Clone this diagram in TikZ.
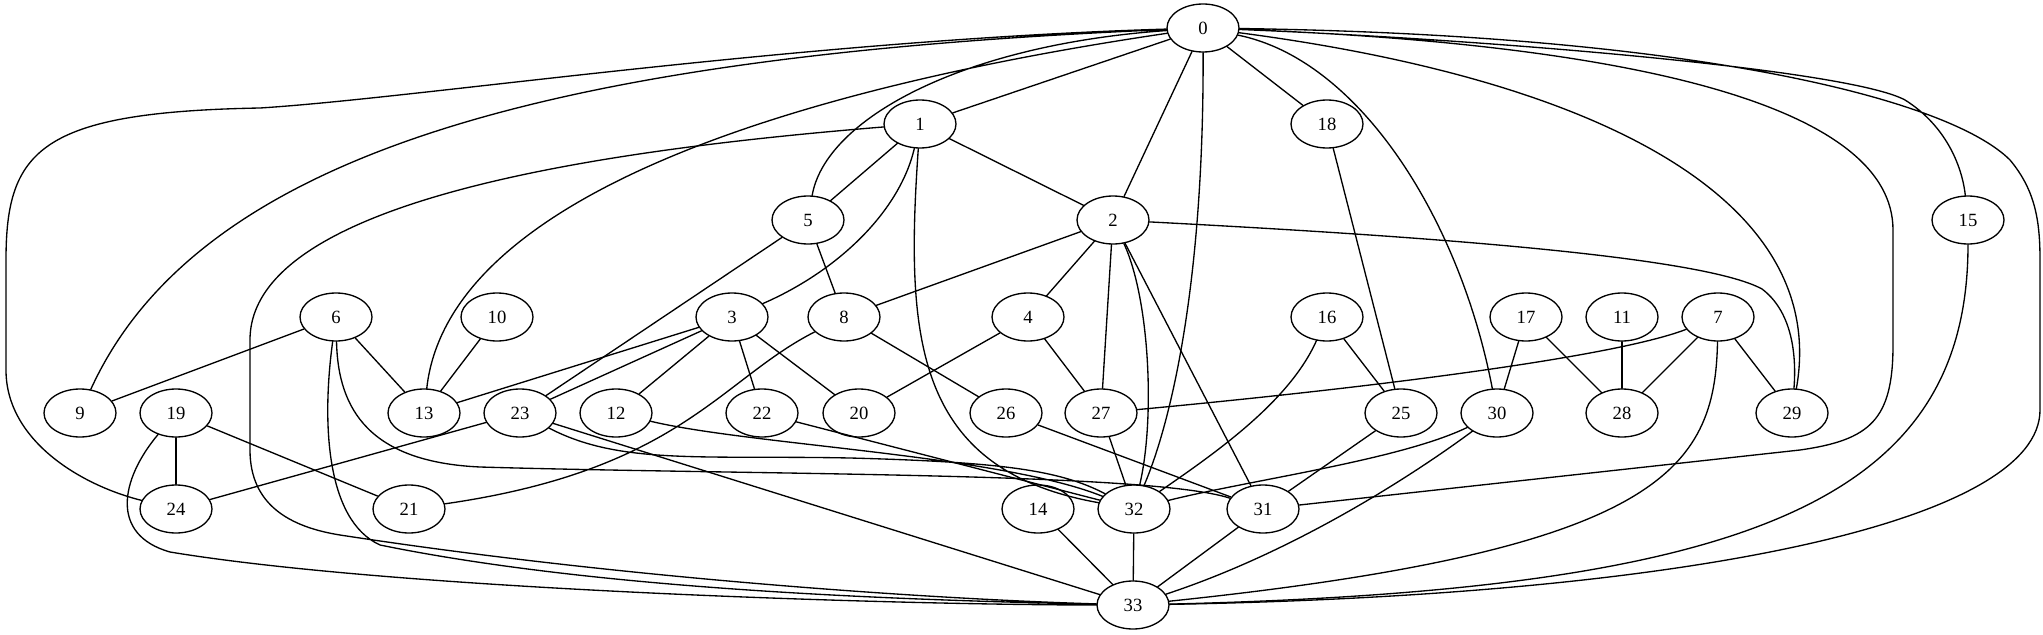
\documentclass[tikz,border=0pt]{standalone}
\usepackage{fontspec}
\setmainfont{Liberation Serif}
\usetikzlibrary{shapes.geometric}
\begin{document}
\begin{tikzpicture}[x=0.75pt, y=0.75pt, line width=1pt, line join=round, line cap=round,
	vtx/.style={draw, ellipse, minimum width=54pt, minimum height=36pt, inner sep=0pt, font=\fontsize{14}{16}\selectfont}]
	\useasboundingbox (0,0) rectangle (2043,-635);
	\foreach \n/\x/\y in {0/1203/28, 1/920/124, 18/1327/124, 5/808/220, 2/1113/220, 15/1968/220,
		6/336/317, 10/497/317, 3/732/317, 8/844/317, 4/1028/317, 16/1327/317, 17/1526/317, 11/1622/317, 7/1718/317,
		9/80/413, 19/176/413, 13/424/413, 23/520/413, 12/616/413, 22/762/413, 20/859/413, 26/1006/413,
		27/1101/413, 25/1401/413, 30/1497/413, 28/1622/413, 29/1792/413,
		24/176/509, 21/409/509, 14/1038/509, 32/1134/509, 31/1263/509, 33/1133/605}
		\node[vtx] (n\n) at (\x,-\y) {\n};
	\foreach \a/\b in {0/1, 0/2, 0/18, 1/5, 1/2, 2/8, 2/4, 2/27, 2/31, 5/8, 5/23, 18/25, 6/9, 6/13, 10/13,
		3/13, 3/23, 3/12, 3/22, 3/20, 8/26, 4/20, 4/27, 16/25, 17/30, 17/28, 11/28, 7/28, 7/29, 19/24,
		19/21, 23/24, 23/33, 22/32, 26/31, 27/32, 25/31, 31/33, 32/33, 14/33}
		\draw (n\a) -- (n\b);
	\draw (n0) .. controls (960,-45) and (825,-120) .. (n5)
	(n0) .. controls (850,-80) and (450,-180) .. (n13)
	(n0) .. controls (560,-55) and (200,-150) .. (n9)
	(n0) .. controls (800,-40) and (420,-98) .. (260,-108) .. controls (40,-112) and (6,-150) .. (6,-260) -- (6,-370) .. controls (6,-440) and (80,-485) .. (n24)
	(n0) .. controls (1204,-280) and (1172,-420) .. (n32)
	(n0) .. controls (1360,-60) and (1460,-220) .. (n30)
	(n0) .. controls (1600,-80) and (1830,-200) .. (n29)
	(n0) .. controls (1650,-45) and (1893,-110) .. (1893,-230) -- (1893,-345) .. controls (1893,-420) and (1870,-440) .. (1800,-450) -- (n31)
	(n0) .. controls (1500,-40) and (1850,-70) .. (1905,-100) .. controls (1945,-125) and (1962,-165) .. (n15)
	(n0) .. controls (1700,-35) and (1950,-100) .. (2010,-160) .. controls (2035,-190) and (2040,-220) .. (2040,-260) -- (2040,-410) .. controls (2040,-520) and (1700,-595) .. (n33)
	;
	\draw (n1) .. controls (900,-210) and (840,-270) .. (n3)
	(n1) .. controls (905,-340) and (915,-470) .. (n32)
	(n1) .. controls (600,-150) and (250,-200) .. (250,-340) -- (250,-450) .. controls (250,-505) and (290,-527) .. (340,-535) .. controls (600,-575) and (900,-598) .. (n33)
	(n2) .. controls (1150,-300) and (1155,-420) .. (n32)
	(n2) .. controls (1400,-235) and (1700,-255) .. (1762,-289) .. controls (1790,-310) and (1797,-350) .. (n29)
	(n15) .. controls (1968,-500) and (1750,-590) .. (n33)
	(n6) .. controls (322,-420) and (325,-520) .. (380,-545) .. controls (600,-590) and (900,-600) .. (n33)
	(n6) .. controls (338,-410) and (370,-462) .. (480,-467) .. controls (750,-475) and (1150,-472) .. (n31)
	(n8) .. controls (720,-380) and (680,-470) .. (n21)
	(n16) .. controls (1290,-400) and (1220,-450) .. (n32)
	(n7) .. controls (1620,-355) and (1400,-385) .. (n27)
	(n7) .. controls (1715,-470) and (1660,-550) .. (n33)
	(n19) .. controls (120,-480) and (110,-535) .. (170,-552) .. controls (400,-590) and (900,-605) .. (n33)
	(n23) .. controls (620,-465) and (700,-455) .. (850,-458) .. controls (1000,-462) and (1060,-470) .. (n32)
	(n12) .. controls (750,-445) and (1000,-455) .. (n32)
	(n30) .. controls (1400,-460) and (1250,-480) .. (n32)
	(n30) .. controls (1420,-470) and (1300,-550) .. (n33)
	;
\end{tikzpicture}
\end{document}
